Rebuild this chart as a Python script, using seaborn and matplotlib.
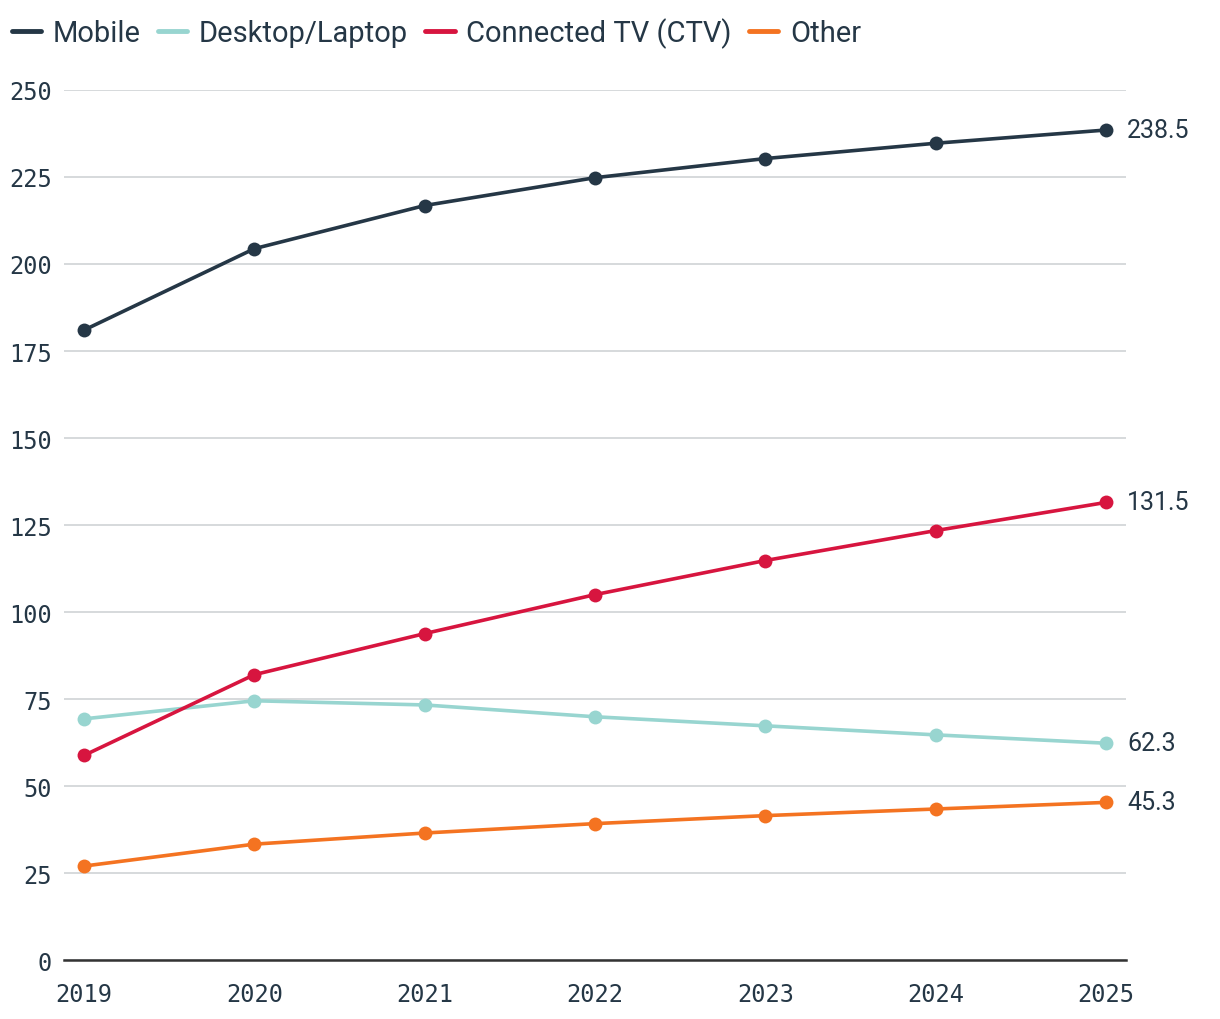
import pandas as pd
import matplotlib.pyplot as plt
import seaborn as sns

# --- Data ---
years = [2019, 2020, 2021, 2022, 2023, 2024, 2025]
mobile = [181.0, 204.4, 216.8, 224.8, 230.3, 234.7, 238.5]
desktop = [69.3, 74.5, 73.3, 69.9, 67.3, 64.7, 62.3]
ctv = [58.8, 82.0, 93.8, 105.0, 114.8, 123.4, 131.5]
other = [27.0, 33.3, 36.5, 39.2, 41.5, 43.4, 45.3]

series_names = ['Mobile', 'Desktop/Laptop', 'Connected TV (CTV)', 'Other']
series_values = [mobile, desktop, ctv, other]
colors = ['#253746', '#98d5d0', '#d7153f', '#f47321']
TEXT = '#253746'

rows = []
for name, vals in zip(series_names, series_values):
    for y, v in zip(years, vals):
        rows.append({'Year': y, 'Value': v, 'Device': name})
df = pd.DataFrame(rows)

sns.set_theme(style="white")
plt.rcParams['font.family'] = ['Roboto', 'DejaVu Sans']

fig = plt.figure(figsize=(12.2, 10.2), dpi=100)
ax = fig.add_axes([0.0525, 0.0578, 0.8705, 0.853])

sns.lineplot(data=df, x='Year', y='Value', hue='Device', hue_order=series_names,
             palette=colors, marker='o', markersize=10, markeredgewidth=0,
             linewidth=2.6, ax=ax, clip_on=False)

ax.set_xlim(2019 - 0.117, 2025 + 0.117)
ax.set_ylim(0, 250)
ax.set_yticks(range(0, 251, 25))
ax.set_xticks(years)
ax.set_xlabel('')
ax.set_ylabel('')
ax.grid(True, axis='y', color='#d0d3d6', linewidth=1.2)
ax.grid(False, axis='x')
for side in ['top', 'right', 'left']:
    ax.spines[side].set_visible(False)
ax.spines['bottom'].set_color('#333333')
ax.spines['bottom'].set_linewidth(1.8)
ax.tick_params(axis='both', length=0, labelsize=17, labelcolor=TEXT)
ax.tick_params(axis='y', pad=9)
ax.tick_params(axis='x', pad=16)
for lab in ax.get_xticklabels() + ax.get_yticklabels():
    lab.set_family(['DejaVu Sans Mono'])

# end-of-line value labels
for name, vals in zip(series_names, series_values):
    ax.annotate(f'{vals[-1]:.1f}', xy=(years[-1], vals[-1]), xytext=(15, 0),
                textcoords='offset points', va='center', ha='left',
                fontsize=18, color=TEXT, annotation_clip=False)

sns.move_legend(ax, 'upper left', bbox_to_anchor=(-0.012, 1.008),
                bbox_transform=fig.transFigure, ncol=4, title=None,
                frameon=False, fontsize=21, handlelength=1.0,
                handletextpad=0.4, columnspacing=0.6, borderaxespad=0.5)
leg = ax.get_legend()
for t in leg.get_texts():
    t.set_color(TEXT)
for h in leg.legend_handles:
    h.set_marker('')
    h.set_linewidth(3.5)

fig.savefig('out.png', dpi=100)
